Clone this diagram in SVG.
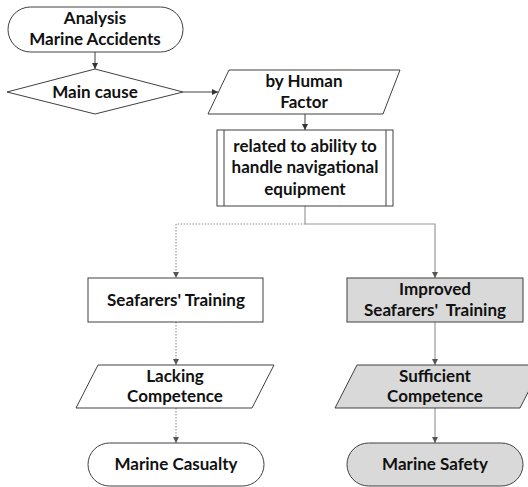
<svg xmlns="http://www.w3.org/2000/svg" width="528" height="487" viewBox="0 0 528 487">
<style>
.s{stroke:#404040;stroke-width:1;fill:#fff}
.g{fill:#d9d9d9}
.t{font-family:Lato,"Liberation Sans",sans-serif;font-weight:bold;font-size:17px;fill:#111;text-anchor:middle}
.c{fill:none;stroke:#404040;stroke-width:1}
.cg{fill:none;stroke:#999;stroke-width:1.2}
.cd{fill:none;stroke:#999;stroke-width:1.2;stroke-dasharray:1.5 1.5}
</style>
<defs>
<marker id="a" viewBox="0 0 6 6" refX="6" refY="3" markerWidth="6" markerHeight="6" markerUnits="userSpaceOnUse" orient="auto"><path d="M0,0L6,3L0,6z" fill="#333"/></marker>
<marker id="ag" viewBox="0 0 6 6" refX="6" refY="3" markerWidth="6" markerHeight="6" markerUnits="userSpaceOnUse" orient="auto"><path d="M0,0L6,3L0,6z" fill="#555"/></marker>
</defs>
<g id="connectors">
<path class="c" d="M95,52V69" marker-end="url(#a)"/>
<path class="c" d="M183,92H218" marker-end="url(#a)"/>
<path class="c" d="M305,114V130" marker-end="url(#a)"/>
<path class="cg" d="M305,206V224H435V278" marker-end="url(#ag)"/>
<path class="cd" d="M305,224H176V278" marker-end="url(#ag)"/>
<path class="cd" d="M176,322V365" marker-end="url(#ag)"/>
<path class="cd" d="M176,408V443" marker-end="url(#ag)"/>
<path class="cg" d="M435,322V365" marker-end="url(#ag)"/>
<path class="cg" d="M435,408V443" marker-end="url(#ag)"/>
</g>
<g id="n1"><rect class="s" x="8" y="7" width="175" height="45" rx="22.5"/><text class="t" x="95" y="24">Analysis</text><text class="t" x="95" y="45">Marine Accidents</text></g>
<g id="n2"><path class="s" d="M95,69L183,92L95,114L7,92z"/><text class="t" x="95" y="98">Main cause</text></g>
<g id="n3"><path class="s" d="M229,70H400L383,114H208z"/><text class="t" x="304" y="87">by Human</text><text class="t" x="304" y="108">Factor</text></g>
<g id="n4"><rect class="s" x="217" y="130" width="176" height="76"/><path class="c" d="M224,130V206M386,130V206"/><text class="t" x="305" y="152">related to ability to</text><text class="t" x="305" y="173">handle navigational</text><text class="t" x="305" y="195">equipment</text></g>
<g id="n5"><rect class="s" x="88" y="278" width="175" height="44"/><text class="t" x="176" y="306">Seafarers' Training</text></g>
<g id="n6"><rect class="s g" x="347" y="278" width="176" height="44"/><text class="t" x="435" y="295">Improved</text><text class="t" x="435" y="316" xml:space="preserve">Seafarers'  Training</text></g>
<g id="n7"><path class="s" d="M98,365H274L252,408H76z"/><text class="t" x="175" y="382">Lacking</text><text class="t" x="175" y="402">Competence</text></g>
<g id="n8"><path class="s g" d="M357,365H542L520,408H335z"/><text class="t" x="435" y="382">Sufficient</text><text class="t" x="435" y="402">Competence</text></g>
<g id="n9"><rect class="s" x="88" y="443" width="176" height="43" rx="21.5"/><text class="t" x="176" y="470">Marine Casualty</text></g>
<g id="n10"><rect class="s g" x="347" y="443" width="176" height="43" rx="21.5"/><text class="t" x="435" y="470">Marine Safety</text></g>
</svg>
